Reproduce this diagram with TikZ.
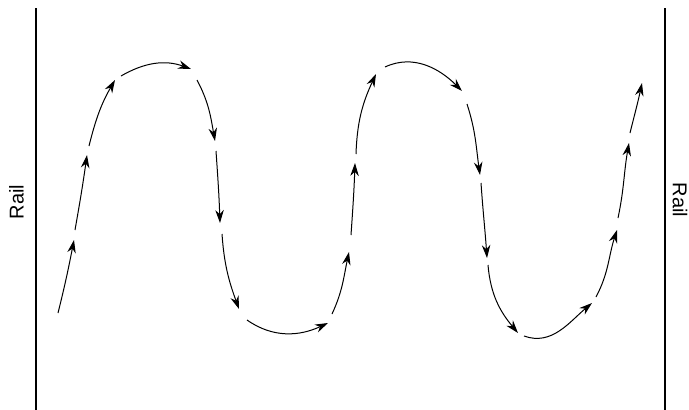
\documentclass[tikz,border=0pt]{standalone}
\usepackage{fontspec}
\setmainfont{Liberation Sans}
\usetikzlibrary{arrows.meta}

\begin{document}
\begin{tikzpicture}[x=1pt, y=1pt,
  flow/.style={line width=1pt, -{Stealth[length=13pt, width=8.5pt]}},
  rail/.style={line width=1.1pt},
  railtext/.style={font=\fontsize{20}{22}\selectfont, inner sep=0pt}]
  \useasboundingbox (0,0) rectangle (689,-410);
  % rails
  \coordinate (lt) at (36,-8);
  \coordinate (lb) at (36,-410);
  \coordinate (rt) at (665,-8);
  \coordinate (rb) at (665,-410);
  \draw[rail] (lt) -- (lb);
  \draw[rail] (rt) -- (rb);
  \node[railtext, rotate=90] (lrail) at (16.5,-202) {Rail};
  \node[railtext, rotate=-90] (rrail) at (680,-200) {Rail};
  % the wave, one piece at a time
  \draw[flow] (58,-313) to[out=76, in=259] (74,-240);
  \draw[flow] (75,-230) to[out=80, in=262] (87,-155);
  \draw[flow] (89,-146) to[out=76, in=240] (115,-80);
  \draw[flow] (121,-76) to[out=30, in=160] (191,-69);
  \draw[flow] (197,-80) to[out=-62, in=100] (215,-141);
  \draw[flow] (216,-151) to[out=-86, in=92] (220,-223);
  \draw[flow] (222,-234) to[out=-86, in=110] (239,-309);
  \draw[flow] (247,-320) to[out=-35, in=205] (328,-323);
  \draw[flow] (332,-314) to[out=65, in=258] (349,-252);
  \draw[flow] (351,-235) to[out=86, in=268] (355,-163);
  \draw[flow] (356,-154) to[out=88, in=245] (376,-74);
  \draw[flow] (385,-67) to[out=25, in=135] (462,-91);
  \draw[flow] (467,-104) to[out=-72, in=98] (480,-175);
  \draw[flow] (481,-183) to[out=-86, in=94] (487,-258);
  \draw[flow] (488,-265) to[out=-85, in=130] (518,-333);
  \draw[flow] (524,-336) to[out=-20, in=220] (592,-303);
  \draw[flow] (596,-297) to[out=62, in=252] (617,-230);
  \draw[flow] (618,-218) to[out=78, in=260] (629,-143);
  \draw[flow] (630,-133) to[out=76, in=258] (642,-83);
\end{tikzpicture}
\end{document}
